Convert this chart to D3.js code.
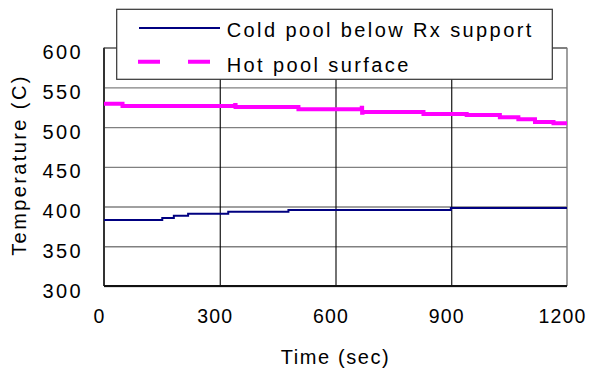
<!DOCTYPE html>
<meta charset="utf-8">
<style>
  body { margin: 0; background: #fff; }
  text { font-family: "Liberation Sans", Arial, sans-serif; fill: #000; }
</style>
<svg width="589" height="369"></svg>
<script src="https://cdn.jsdelivr.net/npm/d3@7"></script>
<script>

// series (step changes: time in sec, temperature in C)
var coldTimes  = [0, 151, 181, 218, 322, 478, 899, 1200];
var coldValues = [383, 385.6, 388.5, 391, 393.5, 395.7, 398.2, 398.2];

var hotTimes  = [0, 48, 340, 341, 504, 668, 669, 670, 828, 940, 1026, 1074, 1117, 1165, 1200];
var hotValues = [529.5, 526.6, 528, 525.4, 522.5, 524.5, 518, 519.1, 516.5, 515.3, 512.4, 509.9, 506.5, 504.8, 504.8];

var xTicks = [0, 300, 600, 900, 1200];
var yTicks = [300, 350, 400, 450, 500, 550, 600];
var seriesNames = ["Cold pool below Rx support", "Hot pool surface"];

var svg = d3.select("svg"),
    margin = {top: 47.7, right: 22, bottom: 83, left: 104},
    width = 589 - margin.left - margin.right,
    height = 369 - margin.top - margin.bottom;

var x = d3.scaleLinear().domain([0, 1200]).range([0, width]);
var y = d3.scaleLinear().domain([300, 600]).range([height, 0]);

var g = svg.append("g").attr("transform", "translate(" + margin.left + "," + margin.top + ")");

// horizontal gridlines (grey)
var yAxis = g.append("g")
    .call(d3.axisLeft(y).tickValues(yTicks).tickSize(-width).tickFormat(""));
yAxis.select(".domain").remove();
yAxis.selectAll("line").attr("stroke", "#808080").attr("stroke-width", 1.4);

// vertical gridlines (black)
var xGrid = g.append("g")
    .attr("transform", "translate(0," + height + ")")
    .call(d3.axisBottom(x).tickValues(xTicks.slice(1, 4)).tickSize(-height).tickFormat(""));
xGrid.select(".domain").remove();
xGrid.selectAll("line").attr("stroke", "#000").attr("stroke-width", 1.1);

// frame
g.append("line").attr("x1", 0).attr("x2", width).attr("y1", 0).attr("y2", 0)
    .attr("stroke", "#808080").attr("stroke-width", 1.4);
g.append("line").attr("x1", width).attr("x2", width).attr("y1", 0).attr("y2", height)
    .attr("stroke", "#777").attr("stroke-width", 1.4);
g.append("line").attr("x1", 0).attr("x2", 0).attr("y1", 0).attr("y2", height)
    .attr("stroke", "#333").attr("stroke-width", 2);
g.append("line").attr("x1", 0).attr("x2", width).attr("y1", height).attr("y2", height)
    .attr("stroke", "#111").attr("stroke-width", 2);

// tick labels
var yLab = g.append("g")
    .call(d3.axisLeft(y).tickValues(yTicks).tickSize(0).tickPadding(21).tickFormat(d3.format("d")));
yLab.select(".domain").remove();
yLab.selectAll("text")
    .attr("font-size", 20).attr("dy", "0.55em").attr("fill", "#000")
    .style("letter-spacing", "2.4px").style("font-family", "Liberation Sans, Arial, sans-serif");

var xLab = g.append("g")
    .attr("transform", "translate(0," + height + ")")
    .call(d3.axisBottom(x).tickValues(xTicks).tickSize(0).tickPadding(23).tickFormat(d3.format("d")));
xLab.select(".domain").remove();
xLab.selectAll("text")
    .attr("font-size", 19.5).attr("dx", -5).attr("fill", "#000")
    .style("letter-spacing", "1.2px").style("font-family", "Liberation Sans, Arial, sans-serif");

// lines
var cold = coldTimes.map(function(t, i) { return [t, coldValues[i]]; });
var hot = hotTimes.map(function(t, i) { return [t, hotValues[i]]; });

var line = d3.line()
    .x(function(d) { return x(d[0]); })
    .y(function(d) { return y(d[1]); })
    .curve(d3.curveStepAfter);

g.append("path").datum(cold)
    .attr("d", line).attr("fill", "none")
    .attr("stroke", "#000080").attr("stroke-width", 2);

g.append("path").datum(hot)
    .attr("d", line).attr("fill", "none")
    .attr("stroke", "#ff00ff").attr("stroke-width", 4);

// axis titles
svg.append("text")
    .attr("x", margin.left + width / 2).attr("y", 364)
    .attr("text-anchor", "middle").attr("font-size", 20)
    .style("letter-spacing", "1.6px")
    .text("Time (sec)");

svg.append("text")
    .attr("transform", "translate(26,165) rotate(-90)")
    .attr("text-anchor", "middle").attr("font-size", 20)
    .style("letter-spacing", "2.4px")
    .text("Temperature (C)");

// legend
var legend = svg.append("g");
legend.append("rect")
    .attr("x", 116.7).attr("y", 9.3).attr("width", 435.6).attr("height", 70)
    .attr("fill", "#fff").attr("stroke", "#333").attr("stroke-width", 1.2);

legend.append("line")
    .attr("x1", 139).attr("x2", 220).attr("y1", 28).attr("y2", 28)
    .attr("stroke", "#000080").attr("stroke-width", 2);
legend.append("line")
    .attr("x1", 138).attr("x2", 220).attr("y1", 61.7).attr("y2", 61.7)
    .attr("stroke", "#ff00ff").attr("stroke-width", 4)
    .attr("stroke-dasharray", "22,28");

legend.selectAll("text.lab").data(seriesNames).enter().append("text")
    .attr("class", "lab")
    .attr("x", 226.7)
    .attr("y", function(d, i) { return 37.3 + i * 35; })
    .attr("font-size", 20)
    .style("letter-spacing", "2.4px")
    .text(function(d) { return d; });

</script>
